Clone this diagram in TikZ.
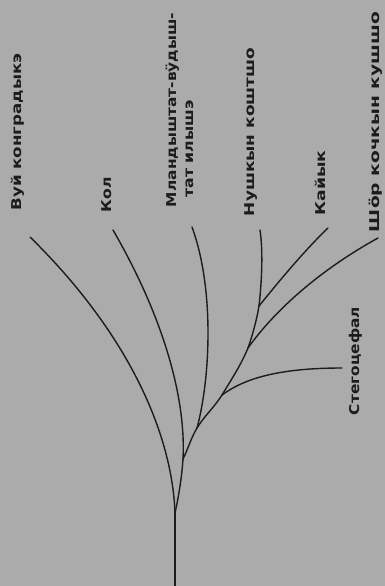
\documentclass[tikz,border=0pt]{standalone}
\usepackage{fontspec}
\setmainfont{DejaVu Sans}
\usepackage{graphicx}
\definecolor{bg}{RGB}{171,171,171}
\definecolor{ink}{RGB}{28,28,28}
\newcommand{\lbl}[2]{\resizebox{#1}{\height}{#2}}
\begin{document}
\begin{tikzpicture}[x=1pt,y=-1pt,
  branch/.style={draw=ink,line width=1.4pt,line cap=round},
  lab/.style={rotate=90,inner sep=0pt,text=ink,text height=10pt,text depth=0pt,
              font=\fontsize{13.5}{16}\selectfont\bfseries}]
\fill[bg] (0,0) rectangle (385,586);
\useasboundingbox (0,0) rectangle (385,586);
% junctions and ends
\coordinate (R)  at (175,586);
\coordinate (J0) at (175,513);
\coordinate (J1) at (183,459);
\coordinate (J2) at (197,428);
\coordinate (J3) at (222,395);
\coordinate (J4) at (248,348);
\coordinate (J5) at (259,306);
\coordinate (Evuj) at (30,237);
\coordinate (Ekol) at (113,230);
\coordinate (Emla) at (192,227);
\coordinate (Este) at (342,368);
\coordinate (Esho) at (378,238);
\coordinate (Enus) at (260,230);
\coordinate (Ekaj) at (328,228);
% labels
\node[lab] (vuj)  at (16,132)  {\lbl{157pt}{Вуй конградыкэ}};
\node[lab] (kol)  at (106,195) {\lbl{35pt}{Кол}};
\node[lab] (mla1) at (171,110) {\lbl{194pt}{Мландыштат-вӱдыш-}};
\node[lab] (mla2) at (188,149) {\lbl{97pt}{тат илышэ}};
\node[lab] (nus)  at (249,132) {\lbl{168pt}{Нушкын коштшо}};
\node[lab] (kaj)  at (320,183) {\lbl{65pt}{Кайык}};
\node[lab] (sho)  at (374,122) {\lbl{220pt}{Шӧр кочкын кушшо}};
\node[lab] (ste)  at (354,361) {\lbl{108pt}{Стегоцефал}};
% tree
\draw[branch] (R) -- (J0);
\draw[branch] (J0) .. controls (172,430) and (125,330) .. (Evuj);
\draw[branch] (J0) .. controls (179,495) and (182,475) .. (J1);
\draw[branch] (J1) .. controls (186,400) and (165,320) .. (Ekol);
\draw[branch] (J1) .. controls (188,449) and (191,438) .. (J2);
\draw[branch] (J2) .. controls (210,380) and (215,290) .. (Emla);
\draw[branch] (J2) .. controls (205,415) and (213,409) .. (J3);
\draw[branch] (J3) .. controls (245,378) and (280,368) .. (Este);
\draw[branch] (J3) .. controls (231,380) and (241,365) .. (J4);
\draw[branch] (J4) .. controls (275,310) and (320,270) .. (Esho);
\draw[branch] (J4) .. controls (253,334) and (257,318) .. (J5);
\draw[branch] (J5) .. controls (262,280) and (263,250) .. (Enus);
\draw[branch] (J5) .. controls (280,280) and (305,250) .. (Ekaj);
\end{tikzpicture}
\end{document}
